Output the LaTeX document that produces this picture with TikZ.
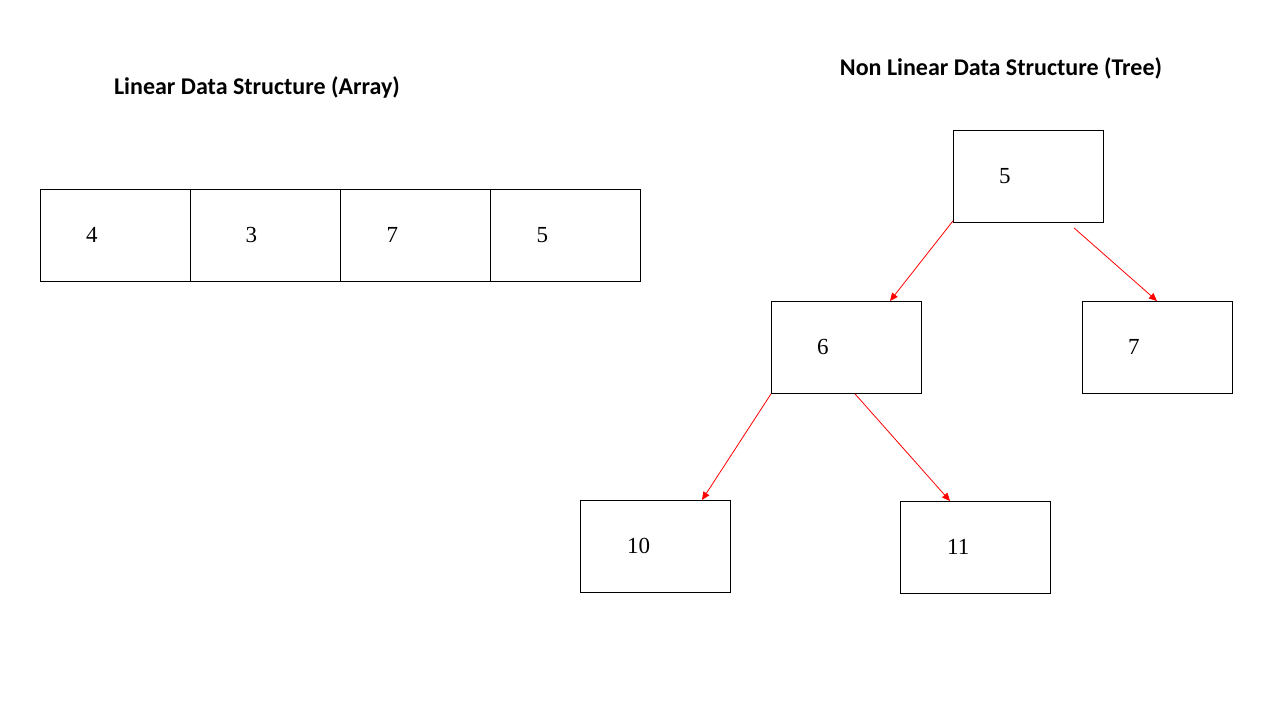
\documentclass[tikz,border=0pt]{standalone}
\usepackage{fontspec}
\setmainfont{Liberation Serif}
\newfontfamily\titlefont{Carlito}
\usetikzlibrary{arrows.meta,calc}
\begin{document}
\begin{tikzpicture}[x=1pt,y=-1pt,
  cell/.style={draw=black,line width=0.9pt,minimum width=150pt,minimum height=92pt,inner sep=0pt,anchor=north west},
  val/.style={font=\fontsize{23}{26}\selectfont,anchor=west,inner sep=0pt},
  ttl/.style={font=\titlefont\bfseries\fontsize{24}{28}\selectfont,inner sep=0pt},
  edge/.style={draw=red,line width=0.8pt,-{Triangle[length=8pt,width=7pt]}}]
\useasboundingbox (0,0) rectangle (1280,720);
% titles
\node[ttl] (t1) at (257,87) {Linear Data Structure (Array)};
\node[ttl] (t2) at (1001,68) {Non Linear Data Structure (Tree)};
% array
\node[cell] (a1) at (40,189) {};
\node[cell,minimum width=150.5pt] (a2) at (189.5,189) {};
\node[cell] (a3) at (340,189) {};
\node[cell] (a4) at (490,189) {};
\node[val] (v1) at (86,235) {4};
\node[val] (v2) at (245.5,235) {3};
\node[val] (v3) at (386.5,235) {7};
\node[val] (v4) at (536.5,235) {5};
% tree
\node[cell] (r) at (953,130) {};
\node[cell] (n6) at (771,301) {};
\node[cell] (n7) at (1082,301) {};
\node[cell] (n10) at (580,500) {};
\node[cell] (n11) at (900,501) {};
\node[val] (lr) at (999,176) {5};
\node[val] (l6) at (817,347) {6};
\node[val] (l7) at (1128,347) {7};
\node[val] (l10) at (627,546) {10};
\node[val] (l11) at (947,547) {11};
% edges
\draw[edge] ($(r.south west)+(0,-2)$) -- ($(n6.north west)+(119,0)$);
\draw[edge] ($(r.south west)+(121,5)$) -- ($(n7.north west)+(75,0)$);
\draw[edge] (n6.south west) -- ($(n10.north west)+(122,0)$);
\draw[edge] ($(n6.south west)+(84,0)$) -- ($(n11.north west)+(50,0)$);
\end{tikzpicture}
\end{document}
